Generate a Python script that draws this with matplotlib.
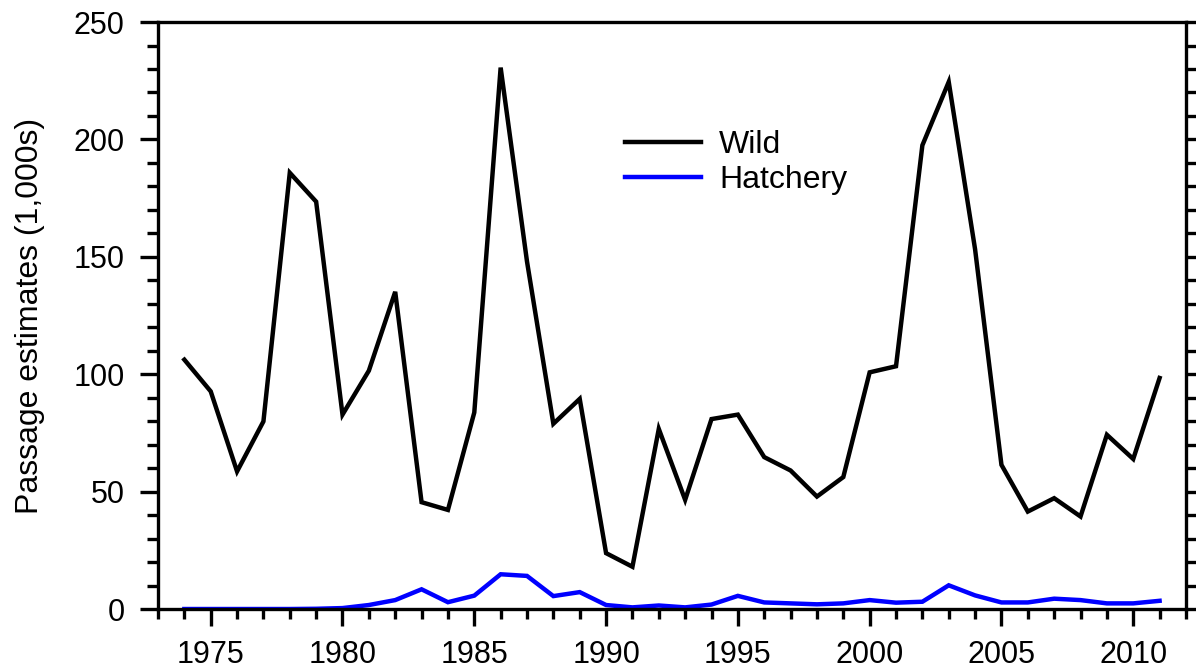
import matplotlib
matplotlib.use("Agg")
import matplotlib.pyplot as plt
from matplotlib.ticker import MultipleLocator

plt.rcParams['font.family'] = ['Liberation Sans', 'DejaVu Sans']

years = list(range(1974, 2012))
wild = [106.2, 92.7, 58.6, 79.9, 185.8, 173.5, 82.8, 101.5, 135.1, 45.5,
        42.2, 83.7, 230.6, 148.0, 78.9, 89.5, 23.8, 18.0, 76.7, 46.5,
        80.9, 82.8, 64.7, 59.0, 47.9, 56.2, 100.8, 103.4, 197.5, 224.5,
        153.2, 61.4, 41.5, 47.2, 39.4, 74.2, 63.9, 98.4]
hatchery = [0.0, 0.0, 0.0, 0.0, 0.0, 0.1, 0.4, 1.7, 3.8, 8.4,
            2.9, 5.7, 14.8, 14.1, 5.5, 7.2, 1.7, 0.7, 1.5, 0.7,
            1.9, 5.6, 2.8, 2.4, 2.0, 2.4, 3.8, 2.7, 3.1, 10.1,
            5.8, 2.8, 2.8, 4.4, 3.8, 2.4, 2.4, 3.5]

fig = plt.figure(figsize=(11.96, 6.68), dpi=100)
ax = fig.add_axes([0.1321, 0.0883, 0.8595, 0.8787])

ax.plot(years, wild, color='black', lw=3.2, solid_joinstyle='miter',
        label='Wild')
ax.plot(years, hatchery, color='#0000ff', lw=3.2, solid_joinstyle='miter',
        label='Hatchery')

ax.set_xlim(1973, 2012)
ax.set_ylim(0, 250)

ax.xaxis.set_major_locator(MultipleLocator(5))
ax.xaxis.set_minor_locator(MultipleLocator(1))
ax.yaxis.set_major_locator(MultipleLocator(50))
ax.yaxis.set_minor_locator(MultipleLocator(10))

for side in ['left', 'right', 'top', 'bottom']:
    ax.spines[side].set_linewidth(2.4)

ax.tick_params(which='both', direction='out', width=2.4, top=False,
               right=True, labelright=False, labelsize=22)
ax.tick_params(axis='x', which='major', length=12, pad=10)
ax.tick_params(axis='x', which='minor', length=7)
ax.tick_params(axis='y', which='major', length=13, pad=11)
ax.tick_params(axis='y', which='minor', length=8)

ax.set_ylabel('Passage estimates (1,000s)', fontsize=23)
ax.yaxis.set_label_coords(-0.11, 0.5)

ax.legend(loc='upper left', bbox_to_anchor=(0.454, 0.816), frameon=False,
          fontsize=23, handlelength=2.4, handletextpad=0.55,
          labelspacing=0.15, borderpad=0, borderaxespad=0)

fig.savefig('out.png', dpi=100)
